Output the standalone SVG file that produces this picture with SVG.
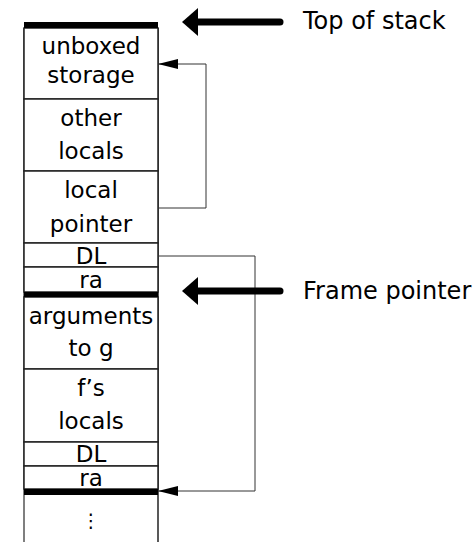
<svg xmlns="http://www.w3.org/2000/svg" width="476" height="542" viewBox="0 0 476 542">
<style>
.cell{fill:#fff;stroke:#222;stroke-width:1.5}
.bar{fill:#000}
.t{font-family:"DejaVu Sans","Liberation Sans",sans-serif;font-size:23px;fill:#000;text-anchor:middle}
.lbl{font-family:"DejaVu Sans","Liberation Sans",sans-serif;font-size:24px;fill:#000}
.conn{fill:none;stroke:#333;stroke-width:1}
.big{fill:none;stroke:#000;stroke-width:7;stroke-linecap:round}
</style>
<defs>
<marker id="ah" markerWidth="20" markerHeight="10" refX="20" refY="5" orient="auto" markerUnits="userSpaceOnUse">
<path d="M0,0 L20,5 L0,10 Z" fill="#000"/>
</marker>
</defs>
<rect width="476" height="542" fill="#fff"/>
<g id="stack">
<line x1="24" y1="28" x2="24" y2="542" stroke="#555" stroke-width="1.5"/>
<line x1="158" y1="28" x2="158" y2="542" stroke="#222" stroke-width="1.5"/>
</g>
<g id="unboxed"><rect class="cell" x="24" y="28" width="134" height="71"/><text class="t" x="91" y="54">unboxed</text><text class="t" x="91" y="83">storage</text></g>
<g id="other"><rect class="cell" x="24" y="99" width="134" height="72"/><text class="t" x="91" y="126">other</text><text class="t" x="91" y="159">locals</text></g>
<g id="localptr"><rect class="cell" x="24" y="171" width="134" height="72"/><text class="t" x="91" y="198">local</text><text class="t" x="91" y="232">pointer</text></g>
<g id="dl1"><rect class="cell" x="24" y="243" width="134" height="24"/><text class="t" x="91" y="264">DL</text></g>
<g id="ra1"><rect class="cell" x="24" y="267" width="134" height="25"/><text class="t" x="91" y="288">ra</text></g>
<g id="args"><rect class="cell" x="24" y="297" width="134" height="72"/><text class="t" x="91" y="324">arguments</text><text class="t" x="91" y="356">to g</text></g>
<g id="flocals"><rect class="cell" x="24" y="369" width="134" height="73"/><text class="t" x="91" y="396">f’s</text><text class="t" x="91" y="429">locals</text></g>
<g id="dl2"><rect class="cell" x="24" y="442" width="134" height="24"/><text class="t" x="91" y="462">DL</text></g>
<g id="ra2"><rect class="cell" x="24" y="466" width="134" height="23"/><text class="t" x="91" y="486">ra</text></g>
<g id="more"><text class="t" x="91" y="527" style="font-size:19px">⋮</text></g>
<g id="bars">
<rect class="bar" x="24" y="22" width="134" height="6"/>
<rect class="bar" x="24" y="292" width="134" height="5"/>
<rect class="bar" x="24" y="489" width="134" height="6"/>
</g>
<g id="connectors">
<polyline class="conn" points="158,208 206,208 206,64 158,64" marker-end="url(#ah)"/>
<polyline class="conn" points="158,256 255,256 255,491 158,491" marker-end="url(#ah)"/>
</g>
<g id="top-label">
<line class="big" x1="196" y1="22" x2="280" y2="22"/>
<path d="M182,22 L198,8 L198,36 Z" fill="#000"/>
<text class="lbl" x="303" y="29">Top of stack</text>
</g>
<g id="frame-label">
<line class="big" x1="196" y1="291" x2="280" y2="291"/>
<path d="M182,291 L198,277 L198,305 Z" fill="#000"/>
<text class="lbl" x="303" y="299">Frame pointer</text>
</g>
</svg>
